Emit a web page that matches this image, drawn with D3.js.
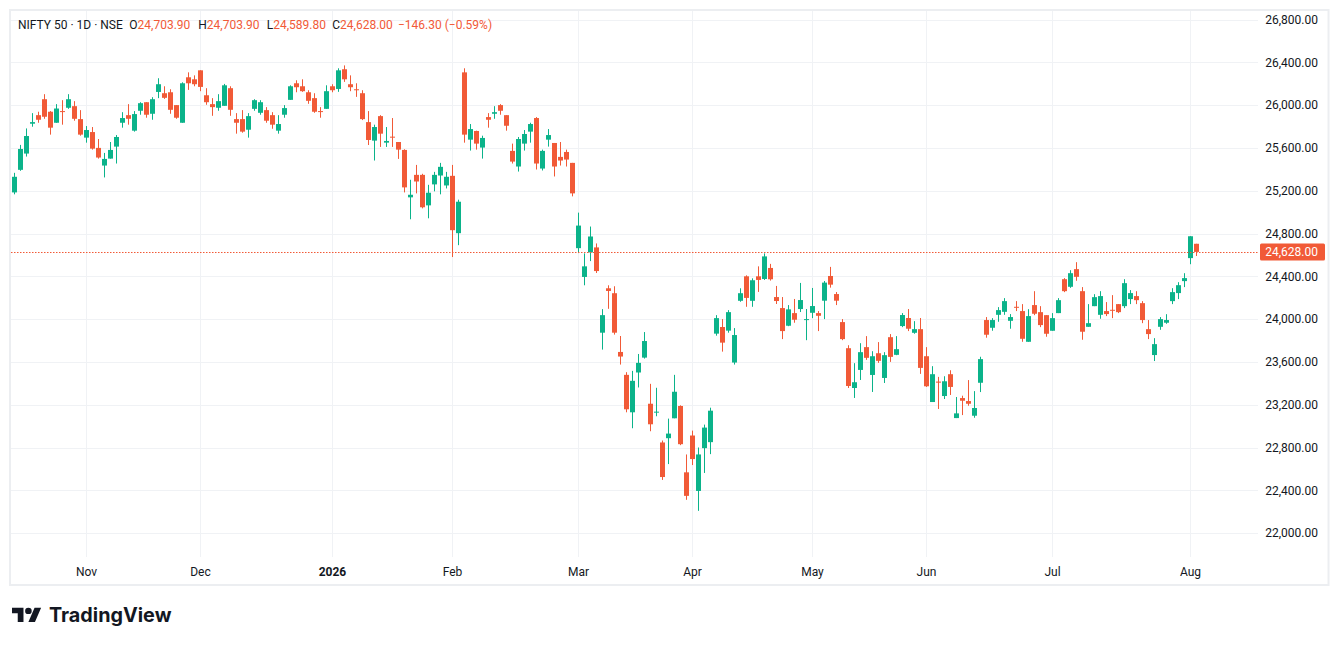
<!DOCTYPE html>
<html>
<head>
<meta charset="utf-8">
<script src="https://cdn.jsdelivr.net/npm/d3@7"></script>
<style>
  html, body { margin: 0; padding: 0; background: #fff; }
  svg { display: block; font-family: Roboto, "Noto Sans", sans-serif; }
</style>
</head>
<body>
<script>
// NIFTY 50 daily bars (oldest first)
const opens = [
  25184, 25395, 25547, 25826, 25906, 26055, 25938, 25835, 25944, 25975,
  25990, 25869, 25696, 25748, 25600, 25435, 25500, 25612, 25835, 25906,
  25761, 25947, 26027, 25919, 26123, 26111, 26120, 26000, 25835, 26260,
  26241, 26325, 26092, 26009, 25975, 25993, 26158, 25869, 25869, 25770,
  25965, 25928, 25953, 25906, 25761, 25910, 26049, 26204, 26176, 26120,
  26065, 25944, 25965, 26176, 26151, 26335, 26195, 26148, 26111, 25841,
  25668, 25897, 25649, 25705, 25655, 25581, 25138, 25348, 25348, 25063,
  25259, 25342, 25249, 25339, 24803, 26306, 25677, 25758, 25603, 25888,
  25919, 26000, 25906, 25572, 25426, 25640, 25752, 25879, 25407, 25677,
  25646, 25516, 25562, 25460, 24663, 24394, 24623, 24670, 23873, 24288,
  24242, 23693, 23479, 23129, 23501, 23640, 23209, 23127, 22847, 22887,
  23073, 23188, 22568, 22912, 22394, 22794, 22850, 23864, 23926, 23892,
  23594, 24171, 24400, 24171, 24400, 24375, 24478, 24206, 24103, 23938,
  24056, 24094, 23994, 24059, 24056, 24172, 24403, 24234, 23972, 23728,
  23356, 23525, 23738, 23478, 23681, 23450, 23831, 23666, 23935, 24010,
  23872, 23906, 23653, 23225, 23416, 23281, 23485, 23075, 23262, 23234,
  23097, 23405, 23991, 23919, 24040, 24068, 23984, 24115, 24075, 23788,
  24131, 24065, 24037, 23891, 24056, 24373, 24302, 24467, 24261, 23928,
  24121, 24040, 24075, 24087, 24140, 24121, 24187, 24215, 24149, 23906,
  23664, 23928, 23966, 24168, 24243, 24355, 24570, 24703.9
];
const highs = [
  25367, 25628, 25782, 25925, 25938, 26102, 25944, 26009, 26046, 26102,
  26037, 25953, 25804, 25795, 25683, 25553, 25655, 25720, 25934, 26009,
  25944, 26027, 26027, 26074, 26251, 26176, 26148, 26000, 26213, 26306,
  26278, 26325, 26158, 26065, 26102, 26198, 26176, 25925, 25953, 25925,
  26055, 26046, 25981, 25934, 25906, 26000, 26185, 26232, 26241, 26139,
  26111, 25981, 26185, 26195, 26344, 26371, 26278, 26204, 26139, 25944,
  25817, 25906, 25795, 25879, 25655, 25587, 25302, 25441, 25358, 25255,
  25376, 25460, 25376, 25441, 25116, 26344, 25823, 25761, 25714, 25925,
  25990, 26009, 25906, 25640, 25702, 25767, 25835, 25888, 25584, 25776,
  25646, 25655, 25584, 25460, 24995, 24614, 24865, 24707, 24093, 24316,
  24307, 23842, 23504, 23516, 23674, 23879, 23395, 23358, 22865, 23070,
  23479, 23194, 22735, 22958, 22800, 23014, 23172, 24037, 24000, 24084,
  23916, 24288, 24409, 24381, 24493, 24614, 24516, 24310, 24206, 24131,
  24188, 24338, 24094, 24291, 24075, 24356, 24488, 24253, 24000, 23756,
  23588, 23775, 23841, 23700, 23785, 23691, 23860, 23841, 24056, 24094,
  23981, 24010, 23738, 23560, 23460, 23466, 23522, 23272, 23284, 23430,
  23327, 23648, 24019, 24009, 24112, 24196, 24047, 24168, 24140, 24093,
  24261, 24121, 24037, 24056, 24196, 24383, 24457, 24532, 24299, 24140,
  24233, 24261, 24159, 24224, 24140, 24373, 24271, 24261, 24168, 23991,
  23822, 24019, 24046, 24289, 24345, 24429, 24775, 24703.9
];
const lows = [
  25166, 25386, 25519, 25798, 25835, 25872, 25724, 25835, 25817, 25965,
  25854, 25714, 25649, 25584, 25500, 25324, 25500, 25454, 25789, 25817,
  25752, 25910, 25882, 25863, 26065, 26058, 25919, 25872, 25835, 26142,
  26176, 26130, 26003, 25900, 25947, 25993, 25900, 25733, 25742, 25696,
  25947, 25910, 25835, 25779, 25733, 25882, 26049, 26120, 26124, 26012,
  25928, 25882, 25965, 26120, 26124, 26217, 26130, 26077, 25860, 25627,
  25482, 25609, 25609, 25609, 25497, 25184, 24933, 25175, 25035, 24942,
  25194, 25166, 25221, 24580, 24691, 25649, 25575, 25584, 25500, 25789,
  25872, 25910, 25761, 25454, 25379, 25575, 25649, 25398, 25389, 25612,
  25333, 25435, 25426, 25147, 24617, 24316, 24542, 24431, 23715, 24096,
  23855, 23575, 23129, 22980, 23361, 23631, 22952, 23092, 22497, 22645,
  23073, 22822, 22311, 22636, 22208, 22562, 22738, 23845, 23696, 23873,
  23575, 24162, 24115, 24115, 24254, 24366, 24360, 24141, 23813, 23934,
  23966, 24066, 23803, 24009, 23888, 24000, 24294, 24131, 23803, 23356,
  23263, 23431, 23619, 23319, 23591, 23403, 23600, 23663, 23925, 23888,
  23863, 23488, 23366, 23225, 23160, 23253, 23291, 23075, 23103, 23190,
  23078, 23318, 23826, 23891, 23975, 24040, 23910, 24075, 23788, 23788,
  24037, 23925, 23835, 23891, 24056, 24252, 24292, 24358, 23807, 23928,
  24121, 24003, 24028, 24009, 24056, 24103, 24140, 24140, 23962, 23813,
  23608, 23900, 23956, 24140, 24187, 24299, 24513, 24589.8
];
const closes = [
  25330, 25590, 25711, 25841, 25863, 25891, 25789, 25968, 25938, 26055,
  25872, 25724, 25767, 25593, 25510, 25497, 25581, 25702, 25879, 25872,
  25916, 26018, 25910, 26055, 26195, 26068, 25956, 25882, 26204, 26204,
  26195, 26170, 26027, 25981, 26037, 26185, 25956, 25835, 25752, 25897,
  26046, 26027, 25854, 25817, 25823, 25972, 26176, 26167, 26130, 26040,
  25938, 25938, 26130, 26139, 26325, 26241, 26167, 26139, 25869, 25674,
  25795, 25733, 25665, 25696, 25584, 25231, 25162, 25286, 25045, 25181,
  25348, 25423, 25330, 24831, 25097, 25724, 25776, 25640, 25693, 25863,
  25934, 25947, 25807, 25472, 25683, 25730, 25823, 25454, 25572, 25720,
  25426, 25482, 25491, 25175, 24874, 24493, 24772, 24449, 24037, 24263,
  23873, 23650, 23157, 23423, 23591, 23795, 23017, 23135, 22524, 22930,
  23321, 22831, 22348, 22692, 22735, 22986, 23144, 24009, 23780, 24065,
  23851, 24242, 24198, 24363, 24366, 24586, 24372, 24169, 23888, 24091,
  23994, 24178, 24000, 24122, 24031, 24341, 24322, 24172, 23813, 23375,
  23410, 23691, 23638, 23653, 23610, 23663, 23647, 23719, 24038, 23910,
  23906, 23544, 23372, 23485, 23406, 23419, 23366, 23119, 23237, 23209,
  23169, 23626, 23854, 23991, 24084, 24168, 24019, 24106, 23816, 24028,
  24050, 23944, 23863, 24009, 24177, 24261, 24429, 24395, 23882, 23962,
  24205, 24215, 24047, 24078, 24065, 24336, 24243, 24177, 23991, 23860,
  23766, 24000, 23991, 24252, 24317, 24383, 24774.3, 24628
];

const priceTicks = [22000, 22400, 22800, 23200, 23600, 24000, 24400, 24800, 25200, 25600, 26000, 26400, 26800];
const monthLabels = ['Nov', 'Dec', '2026', 'Feb', 'Mar', 'Apr', 'May', 'Jun', 'Jul', 'Aug'];
const monthBarIndex = [12, 31, 53, 73, 94, 113, 133, 152, 173, 196];
const symbolTitle = 'NIFTY 50 · 1D · NSE';

const UP = '#0bb38a';
const DOWN = '#f15a37';
const TEXT = '#131722';
const GRID = '#f0f2f5';

const width = 1339, height = 646;
const plot = { left: 11, right: 1258, top: 11, bottom: 557 };

const bars = opens.map((o, i) => ({ i, o, h: highs[i], l: lows[i], c: closes[i] }));

const svg = d3.select(document.body)
  .append('svg')
  .attr('width', width)
  .attr('height', height);

const x = d3.scaleBand()
  .domain(d3.range(bars.length))
  .range([11.5, 11.5 + bars.length * 6]);

const y = d3.scaleLinear()
  .domain([22000, 26800])
  .range([533.1, 19.5]);

const cx = i => x(i) + x.bandwidth() / 2;
const fmt = d3.format(',.2f');

// grid
svg.append('g')
  .selectAll('line')
  .data(priceTicks)
  .join('line')
  .attr('x1', plot.left)
  .attr('x2', plot.right)
  .attr('y1', d => Math.round(y(d)) + 0.5)
  .attr('y2', d => Math.round(y(d)) + 0.5)
  .style('stroke', GRID);

svg.append('g')
  .selectAll('line')
  .data(monthBarIndex)
  .join('line')
  .attr('x1', d => cx(d))
  .attr('x2', d => cx(d))
  .attr('y1', plot.top)
  .attr('y2', plot.bottom)
  .style('stroke', GRID);

// frame
svg.append('rect')
  .attr('x', 10)
  .attr('y', 10)
  .attr('width', 1318.5)
  .attr('height', 575)
  .style('fill', 'none')
  .style('stroke', '#eceef1')
  .style('stroke-width', 2);

// candles
const candle = svg.append('g')
  .selectAll('g')
  .data(bars)
  .join('g')
  .style('fill', d => d.c >= d.o ? UP : DOWN)
  .style('stroke', d => d.c >= d.o ? UP : DOWN);

candle.append('line')
  .attr('x1', d => cx(d.i))
  .attr('x2', d => cx(d.i))
  .attr('y1', d => y(d.h))
  .attr('y2', d => y(d.l))
  .style('stroke-width', 1);

candle.append('rect')
  .attr('x', d => cx(d.i) - 2.5)
  .attr('width', 5)
  .attr('y', d => y(Math.max(d.o, d.c)))
  .attr('height', d => Math.max(1, y(Math.min(d.o, d.c)) - y(Math.max(d.o, d.c))))
  .style('stroke', 'none');

// price axis labels
svg.append('g')
  .selectAll('text')
  .data(priceTicks)
  .join('text')
  .attr('x', 1318)
  .attr('y', d => y(d))
  .attr('dy', '0.36em')
  .attr('text-anchor', 'end')
  .style('font-size', '12px')
  .style('fill', TEXT)
  .text(d => fmt(d));

// time axis labels
svg.append('g')
  .selectAll('text')
  .data(monthLabels)
  .join('text')
  .attr('x', (d, k) => cx(monthBarIndex[k]))
  .attr('y', 576)
  .attr('text-anchor', 'middle')
  .style('font-size', '12px')
  .style('font-weight', d => /^\d+$/.test(d) ? 'bold' : 'normal')
  .style('fill', TEXT)
  .text(d => d);

// last price line and label
const last = bars[bars.length - 1];
const prev = bars[bars.length - 2];
const lastColor = last.c >= last.o ? UP : DOWN;
const yLast = y(last.c);

svg.append('line')
  .attr('x1', plot.left)
  .attr('x2', plot.right)
  .attr('y1', Math.round(yLast) + 0.5)
  .attr('y2', Math.round(yLast) + 0.5)
  .style('stroke', lastColor)
  .style('stroke-dasharray', '1.5,1.5');

svg.append('rect')
  .attr('x', 1260)
  .attr('y', yLast - 8.5)
  .attr('width', 65)
  .attr('height', 17)
  .attr('rx', 1.5)
  .style('fill', lastColor);

svg.append('text')
  .attr('x', 1318)
  .attr('y', yLast)
  .attr('dy', '0.36em')
  .attr('text-anchor', 'end')
  .style('font-size', '12px')
  .style('fill', '#fff')
  .text(fmt(last.c));

// legend header
const change = last.c - prev.c;
const header = svg.append('g').style('font-size', '12px');
header.append('text')
  .attr('x', 18).attr('y', 29)
  .style('fill', TEXT)
  .text(symbolTitle);

const ohlc = [['O', last.o, 129.3], ['H', last.h, 198.3], ['L', last.l, 266.7], ['C', last.c, 332.3]];
ohlc.forEach(([k, v, px]) => {
  const t = header.append('text').attr('x', px).attr('y', 29);
  t.append('tspan').style('fill', TEXT).text(k);
  t.append('tspan').style('fill', lastColor).text(fmt(v));
});
header.append('text')
  .attr('x', 398).attr('y', 29)
  .style('fill', lastColor)
  .text(`${fmt(change)} (${d3.format('.2f')(change / prev.c * 100)}%)`);

// TradingView logo
const logo = svg.append('g').attr('transform', 'translate(12,604.5) scale(0.82,0.8)').style('fill', '#131722');
logo.append('path').attr('d', 'M14 22H7V11H0V4h14v18zM28 22h-8l7.5-18h8L28 22z');
logo.append('circle').attr('cx', 20).attr('cy', 8).attr('r', 4);

svg.append('text')
  .attr('x', 49)
  .attr('y', 622)
  .style('font-family', 'Inter, Roboto, sans-serif')
  .style('font-size', '19.8px')
  .style('font-weight', 'bold')
  .style('fill', '#131722')
  .text('TradingView');
</script>
</body>
</html>
